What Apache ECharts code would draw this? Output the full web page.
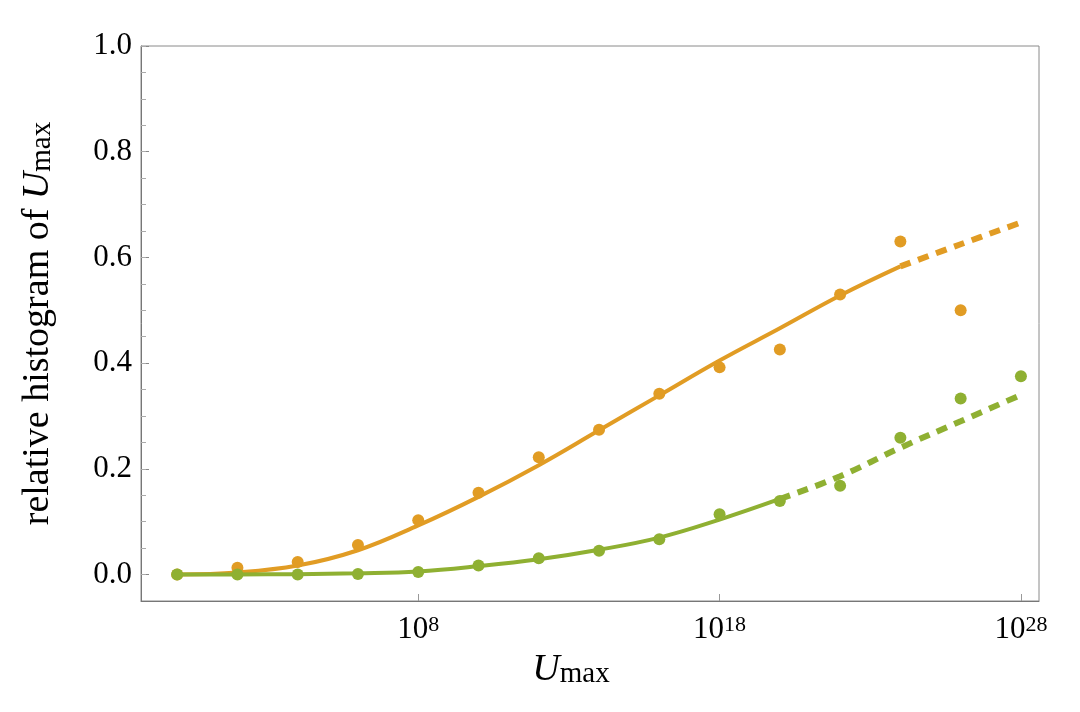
<!DOCTYPE html>
<html>
<head>
<meta charset="utf-8">
<title>relative histogram of Umax</title>
<script src="https://cdn.jsdelivr.net/npm/echarts@6/dist/echarts.min.js"></script>
<style>
  html, body { margin: 0; padding: 0; background: #fff; }
  #chart { width: 1080px; height: 712px; }
</style>
</head>
<body>
<div id="chart"></div>
<script>
// x values are log10(U_max)
const pointExps = [0, 2, 4, 6, 8, 10, 12, 14, 16, 18, 20, 22, 24, 26, 28]
const orangeHist = [0.0, 0.013, 0.024, 0.056, 0.103, 0.155, 0.222, 0.274, 0.342, 0.392, 0.426, 0.530, 0.630, 0.500]
const greenHist = [0.0, 0.0, 0.0, 0.0013, 0.005, 0.017, 0.031, 0.045, 0.067, 0.114, 0.139, 0.168, 0.259, 0.333, 0.375]

// fitted curves: solid part and dashed extrapolation
const orangeFitExps = [0, 2, 4, 6, 8, 10, 12, 14, 16, 18, 20, 22, 24]
const orangeFit = [0.0, 0.004, 0.017, 0.046, 0.093, 0.147, 0.207, 0.273, 0.339, 0.405, 0.466, 0.528, 0.583]
const orangeExtExps = [24, 26, 28]
const orangeExt = [0.583, 0.625, 0.666]

const greenFitExps = [0, 2, 4, 6, 8, 10, 12, 14, 16, 18, 20]
const greenFit = [0.0, 0.0002, 0.0008, 0.0025, 0.006, 0.016, 0.029, 0.047, 0.070, 0.104, 0.143]
const greenExtExps = [20, 22, 24, 26, 28]
const greenExt = [0.143, 0.186, 0.240, 0.290, 0.340]

const xTickExps = [8, 18, 28]
const yTicks = [0, 0.2, 0.4, 0.6, 0.8, 1.0]
const yMinorTicks = [0, 0.05, 0.1, 0.15, 0.2, 0.25, 0.3, 0.35, 0.4, 0.45, 0.5,
  0.55, 0.6, 0.65, 0.7, 0.75, 0.8, 0.85, 0.9, 0.95, 1.0]

const orange = '#E19C24'
const green = '#8FB032'
const serif = '"Liberation Serif", "Times New Roman", serif'

const pairs = (xs, ys) => ys.map((y, i) => [xs[i], y])

const chart = echarts.init(document.getElementById('chart'))

const option = {
  animation: false,
  backgroundColor: '#fff',
  grid: {
    left: 141,
    right: 41,
    top: 46,
    bottom: 111,
    show: true,
    borderColor: '#8a8a8a',
    borderWidth: 1,
  },
  xAxis: {
    type: 'value',
    min: -1.2,
    max: 28.6,
    name: '{u|U}{m|max}',
    nameLocation: 'middle',
    nameGap: 50,
    nameTextStyle: {
      padding: [0, 38, 0, 0],
      rich: {
        u: { fontFamily: serif, fontStyle: 'italic', fontSize: 38, color: '#000' },
        m: { fontFamily: serif, fontSize: 29, color: '#000', verticalAlign: 'bottom' },
      },
    },
    axisLine: { onZero: false, lineStyle: { color: '#777' } },
    axisTick: {
      inside: true,
      length: 7,
      customValues: xTickExps,
      lineStyle: { color: '#999' },
    },
    axisLabel: {
      customValues: xTickExps,
      margin: 13,
      formatter: (v) => '{b|10}{s|' + v + '}',
      rich: {
        b: { fontFamily: serif, fontSize: 31, color: '#000' },
        s: { fontFamily: serif, fontSize: 22, color: '#000', verticalAlign: 'top', padding: [0, 0, 4, 0] },
      },
    },
    splitLine: { show: false },
  },
  yAxis: [
    {
      type: 'value',
      min: -0.05,
      max: 1.0,
      name: '{t|relative histogram of }{u|U}{m|max}',
      nameLocation: 'middle',
      nameRotate: 90,
      nameGap: 84,
      nameTextStyle: {
        rich: {
          t: { fontFamily: serif, fontSize: 38, color: '#000' },
          u: { fontFamily: serif, fontStyle: 'italic', fontSize: 38, color: '#000' },
          m: { fontFamily: serif, fontSize: 29, color: '#000', verticalAlign: 'bottom' },
        },
      },
      axisLine: { show: true, onZero: false, lineStyle: { color: '#777' } },
      axisTick: {
        inside: true,
        length: 8,
        customValues: yTicks,
        lineStyle: { color: '#888' },
      },
      axisLabel: {
        customValues: yTicks,
        margin: 9,
        fontFamily: serif,
        fontSize: 31,
        color: '#000',
        formatter: (v) => v.toFixed(1),
      },
      splitLine: { show: false },
    },
    {
      // minor ticks only
      type: 'value',
      min: -0.05,
      max: 1.0,
      position: 'left',
      axisLine: { show: false, onZero: false },
      axisLabel: { show: false },
      axisTick: {
        inside: true,
        length: 5,
        customValues: yMinorTicks,
        lineStyle: { color: '#aaa' },
      },
      splitLine: { show: false },
    },
  ],
  series: [
    {
      type: 'line',
      data: pairs(orangeFitExps, orangeFit),
      smooth: 0.4,
      showSymbol: false,
      lineStyle: { color: orange, width: 4 },
      z: 2,
    },
    {
      type: 'line',
      data: pairs(orangeExtExps, orangeExt),
      smooth: 0.4,
      showSymbol: false,
      lineStyle: { color: orange, width: 6, type: [11, 8], cap: 'butt' },
      z: 2,
    },
    {
      type: 'line',
      data: pairs(greenFitExps, greenFit),
      smooth: 0.4,
      showSymbol: false,
      lineStyle: { color: green, width: 4 },
      z: 2,
    },
    {
      type: 'line',
      data: pairs(greenExtExps, greenExt),
      smooth: 0.4,
      showSymbol: false,
      lineStyle: { color: green, width: 6, type: [11, 8], cap: 'butt' },
      z: 2,
    },
    {
      type: 'scatter',
      data: pairs(pointExps, orangeHist),
      symbolSize: 12,
      itemStyle: { color: orange, opacity: 1 },
      z: 3,
    },
    {
      type: 'scatter',
      data: pairs(pointExps, greenHist),
      symbolSize: 12,
      itemStyle: { color: green, opacity: 1 },
      z: 4,
    },
  ],
}

chart.setOption(option)

window.addEventListener('resize', () => {
  chart.resize()
})
</script>
</body>
</html>
